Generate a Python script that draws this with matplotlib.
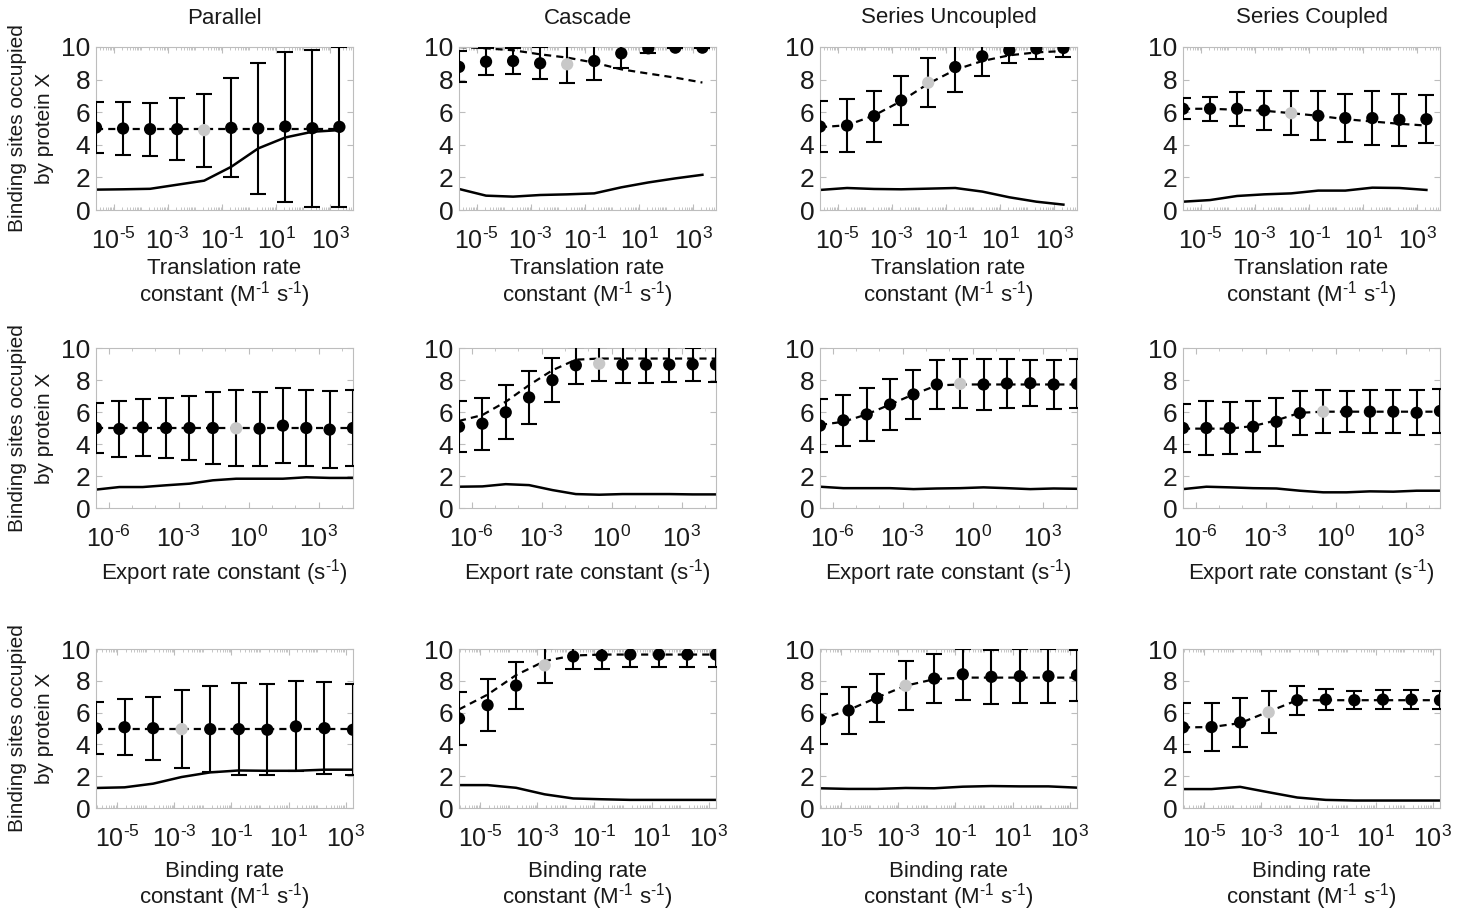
import numpy as np
import matplotlib.pyplot as plt
from matplotlib.ticker import FixedLocator, FixedFormatter, LogLocator, NullFormatter

plt.rcParams['font.family'] = ['Liberation Sans', 'DejaVu Sans']
plt.rcParams['mathtext.fontset'] = 'custom'
plt.rcParams['mathtext.rm'] = 'Liberation Sans'
plt.rcParams['mathtext.default'] = 'regular'

# rate constants swept (x values)
trans_k = [2.2e-6, 2.2e-5, 2.2e-4, 2.2e-3, 2.2e-2, 2.2e-1, 2.2, 22, 220, 2200]
export_k = [2.9e-7, 2.9e-6, 2.9e-5, 2.9e-4, 2.9e-3, 2.9e-2, 2.9e-1, 2.9, 29, 290, 2900, 29000]
bind_k = [1.8e-6, 1.8e-5, 1.8e-4, 1.8e-3, 1.8e-2, 1.8e-1, 1.8, 18, 180, 1800]
nominal = [4, 6, 3]  # index of the grey (nominal) point in each row

models = ["Parallel", "Cascade", "Series Uncoupled", "Series Coupled"]

# --- translation rate sweep ---
par_tr_mean = [5.06, 5.0, 4.96, 4.96, 4.9, 5.04, 5.0, 5.12, 5.02, 5.1]
par_tr_std = [1.58, 1.6, 1.63, 1.89, 2.24, 3.03, 4.04, 4.6, 4.81, 4.9]
par_tr_det = [4.98, 4.98, 4.98, 4.98, 4.98, 4.98, 4.98, 4.98, 4.98, 4.98]
par_tr_noise = [1.25, 1.27, 1.3, 1.55, 1.8, 2.65, 3.78, 4.45, 4.8, 4.9]

cas_tr_mean = [8.78, 9.1, 9.14, 9.0, 8.94, 9.14, 9.61, 9.92, 9.96, 9.96]
cas_tr_std = [0.95, 0.83, 0.8, 0.98, 1.12, 1.16, 0.92, 0.29, 0.05, 0.04]
cas_tr_det = [10.0, 9.92, 9.8, 9.55, 9.35, 9.04, 8.63, 8.37, 8.12, 7.82]
cas_tr_noise = [1.29, 0.88, 0.82, 0.92, 0.96, 1.02, 1.39, 1.69, 1.94, 2.16]

ser_tr_mean = [5.12, 5.18, 5.76, 6.72, 7.81, 8.77, 9.43, 9.8, 9.9, 9.94]
ser_tr_std = [1.58, 1.62, 1.56, 1.52, 1.5, 1.56, 1.23, 0.76, 0.62, 0.55]
ser_tr_det = [5.08, 5.2, 5.8, 6.68, 7.75, 8.6, 9.14, 9.49, 9.67, 9.75]
ser_tr_noise = [1.23, 1.35, 1.29, 1.27, 1.31, 1.35, 1.13, 0.78, 0.51, 0.33]

sc_tr_mean = [6.21, 6.21, 6.21, 6.11, 5.94, 5.78, 5.64, 5.64, 5.53, 5.57]
sc_tr_std = [0.65, 0.75, 1.03, 1.2, 1.34, 1.49, 1.49, 1.63, 1.6, 1.49]
sc_tr_det = [6.21, 6.21, 6.15, 6.09, 5.94, 5.78, 5.57, 5.43, 5.29, 5.18]
sc_tr_noise = [0.51, 0.61, 0.86, 0.96, 1.02, 1.19, 1.19, 1.37, 1.35, 1.23]

# --- export rate sweep ---
par_ex_mean = [5.0, 4.94, 5.04, 5.0, 5.0, 5.0, 4.98, 4.96, 5.15, 5.0, 4.9, 5.0]
par_ex_std = [1.58, 1.77, 1.78, 1.88, 2.01, 2.22, 2.37, 2.32, 2.35, 2.4, 2.4, 2.4]
par_ex_det = [5.0, 5.0, 5.0, 5.0, 5.0, 5.0, 5.0, 5.0, 5.0, 5.0, 5.0, 5.0]
par_ex_noise = [1.15, 1.31, 1.31, 1.42, 1.52, 1.73, 1.83, 1.83, 1.83, 1.92, 1.88, 1.88]

cas_ex_mean = [5.08, 5.27, 5.98, 6.91, 7.99, 8.92, 9.02, 8.96, 8.96, 8.96, 8.98, 8.96]
cas_ex_std = [1.6, 1.63, 1.69, 1.64, 1.38, 1.14, 1.07, 1.14, 1.14, 1.08, 1.05, 1.08]
cas_ex_det = [5.44, 5.81, 6.64, 7.68, 8.61, 9.27, 9.34, 9.34, 9.34, 9.34, 9.34, 9.34]
cas_ex_noise = [1.33, 1.35, 1.49, 1.43, 1.12, 0.87, 0.83, 0.87, 0.87, 0.87, 0.85, 0.85]

ser_ex_mean = [5.15, 5.48, 5.85, 6.47, 7.1, 7.72, 7.76, 7.72, 7.78, 7.8, 7.72, 7.76]
ser_ex_std = [1.68, 1.59, 1.64, 1.6, 1.54, 1.52, 1.53, 1.61, 1.54, 1.43, 1.53, 1.53]
ser_ex_det = [5.19, 5.39, 5.85, 6.47, 7.1, 7.66, 7.72, 7.72, 7.72, 7.72, 7.72, 7.72]
ser_ex_noise = [1.33, 1.24, 1.24, 1.24, 1.18, 1.22, 1.24, 1.29, 1.24, 1.18, 1.22, 1.2]

sc_ex_mean = [5.0, 5.0, 5.0, 5.08, 5.39, 5.93, 6.02, 6.02, 6.02, 6.02, 5.95, 6.06]
sc_ex_std = [1.53, 1.67, 1.62, 1.6, 1.5, 1.37, 1.33, 1.3, 1.33, 1.33, 1.4, 1.37]
sc_ex_det = [4.96, 4.96, 4.96, 5.12, 5.48, 5.95, 6.02, 6.02, 6.02, 6.02, 6.02, 6.02]
sc_ex_noise = [1.18, 1.33, 1.29, 1.24, 1.22, 1.08, 0.98, 0.98, 1.04, 1.02, 1.08, 1.08]

# --- binding rate sweep ---
par_bd_mean = [5.02, 5.08, 5.02, 4.96, 4.96, 4.96, 4.92, 5.13, 5.02, 4.92]
par_bd_std = [1.64, 1.76, 1.99, 2.43, 2.72, 2.88, 2.85, 2.83, 2.91, 2.87]
par_bd_det = [5.0, 5.0, 5.0, 5.0, 5.0, 5.0, 5.0, 5.0, 5.0, 5.0]
par_bd_noise = [1.26, 1.3, 1.53, 1.95, 2.24, 2.36, 2.34, 2.34, 2.41, 2.41]

cas_bd_mean = [5.63, 6.47, 7.7, 8.97, 9.53, 9.59, 9.65, 9.65, 9.65, 9.65]
cas_bd_std = [1.65, 1.62, 1.46, 1.1, 0.8, 0.86, 0.78, 0.78, 0.78, 0.78]
cas_bd_det = [6.2, 7.13, 8.36, 9.24, 9.59, 9.65, 9.65, 9.65, 9.65, 9.65]
cas_bd_noise = [1.44, 1.44, 1.27, 0.86, 0.6, 0.55, 0.51, 0.51, 0.51, 0.51]

ser_bd_mean = [5.57, 6.14, 6.91, 7.69, 8.14, 8.41, 8.25, 8.29, 8.29, 8.35]
ser_bd_std = [1.57, 1.5, 1.5, 1.55, 1.56, 1.6, 1.69, 1.68, 1.68, 1.6]
ser_bd_det = [5.57, 6.16, 6.95, 7.69, 8.1, 8.2, 8.2, 8.2, 8.2, 8.2]
ser_bd_noise = [1.24, 1.2, 1.2, 1.26, 1.24, 1.34, 1.38, 1.36, 1.36, 1.28]

sc_bd_mean = [5.07, 5.09, 5.38, 6.02, 6.78, 6.82, 6.78, 6.82, 6.82, 6.78]
sc_bd_std = [1.54, 1.52, 1.56, 1.33, 0.9, 0.67, 0.58, 0.6, 0.6, 0.58]
sc_bd_det = [5.07, 5.09, 5.34, 6.06, 6.78, 6.78, 6.78, 6.78, 6.78, 6.78]
sc_bd_noise = [1.19, 1.19, 1.33, 0.99, 0.66, 0.51, 0.47, 0.47, 0.47, 0.47]

rows = [
    (trans_k, [(par_tr_mean, par_tr_std, par_tr_det, par_tr_noise),
               (cas_tr_mean, cas_tr_std, cas_tr_det, cas_tr_noise),
               (ser_tr_mean, ser_tr_std, ser_tr_det, ser_tr_noise),
               (sc_tr_mean, sc_tr_std, sc_tr_det, sc_tr_noise)]),
    (export_k, [(par_ex_mean, par_ex_std, par_ex_det, par_ex_noise),
                (cas_ex_mean, cas_ex_std, cas_ex_det, cas_ex_noise),
                (ser_ex_mean, ser_ex_std, ser_ex_det, ser_ex_noise),
                (sc_ex_mean, sc_ex_std, sc_ex_det, sc_ex_noise)]),
    (bind_k, [(par_bd_mean, par_bd_std, par_bd_det, par_bd_noise),
              (cas_bd_mean, cas_bd_std, cas_bd_det, cas_bd_noise),
              (ser_bd_mean, ser_bd_std, ser_bd_det, ser_bd_noise),
              (sc_bd_mean, sc_bd_std, sc_bd_det, sc_bd_noise)]),
]

xlabels = [["Translation rate", "constant (M$^{\u20101}$ s$^{\u20101}$)"],
           ["Export rate constant (s$^{\u20101}$)"],
           ["Binding rate", "constant (M$^{\u20101}$ s$^{\u20101}$)"]]
xticks = [[1e-5, 1e-3, 1e-1, 1e1, 1e3],
          [1e-6, 1e-3, 1e0, 1e3],
          [1e-5, 1e-3, 1e-1, 1e1, 1e3]]
xlims = [(2.2e-6, 7e3), (2.9e-7, 2.9e4), (1.8e-6, 1.8e3)]

# layout in pixels
W, H = 1463, 913
col_left = [96, 459, 820, 1183]
ax_w = 257
row_top = [47, 348, 649]
row_bot = [210, 508, 808]
label_y = [[268, 295], [573], [871, 897]]

grey = "#c8c8c8"
edge = "#bdbdbd"
txt = "#1a1a1a"


def pow_label(t):
    e = int(round(np.log10(t)))
    s = str(abs(e)) if e >= 0 else "\u2010" + str(abs(e))
    return "$10^{%s}$" % s


fig = plt.figure(figsize=(W / 100, H / 100), dpi=100)

for r, (kvals, panels) in enumerate(rows):
    for c, (mean, std, det, noise) in enumerate(panels):
        ax = fig.add_axes([col_left[c] / W, (H - row_bot[r]) / H, ax_w / W,
                           (row_bot[r] - row_top[r]) / H])
        ax.set_xscale("log")
        ax.plot(kvals, noise, color="black", lw=1.8, zorder=2)
        ax.plot(kvals, det, color="black", lw=1.6, ls=(0, (3.2, 2.3)), zorder=2)
        ax.errorbar(kvals, mean, yerr=std, fmt="none", ecolor="black",
                    elinewidth=1.5, capsize=6, capthick=1.5, zorder=3)
        cols = ["black"] * len(kvals)
        cols[nominal[r]] = grey
        ax.scatter(kvals, mean, s=78, c=cols, edgecolors="none", zorder=4)

        ax.set_xlim(*xlims[r])
        ax.set_ylim(0, 10)
        ax.set_yticks([0, 2, 4, 6, 8, 10])
        ax.xaxis.set_major_locator(FixedLocator(xticks[r]))
        ax.xaxis.set_major_formatter(FixedFormatter([pow_label(t) for t in xticks[r]]))
        if r == 1:
            ax.xaxis.set_minor_locator(LogLocator(base=10, subs=[1.0], numticks=100))
        else:
            ax.xaxis.set_minor_locator(LogLocator(base=10, subs=np.arange(1, 10), numticks=100))
        ax.xaxis.set_minor_formatter(NullFormatter())
        ax.tick_params(which="both", direction="in", top=True, right=True,
                       color=edge, labelcolor=txt, labelsize=19)
        ax.tick_params(axis="x", pad=13, labelsize=18)
        ax.tick_params(axis="y", pad=4)
        ax.tick_params(which="major", length=4)
        ax.tick_params(which="minor", length=2)
        for s in ax.spines.values():
            s.set_color(edge)
            s.set_linewidth(0.8)
        xc = (col_left[c] + ax_w / 2) / W
        for line, ly in zip(xlabels[r], label_y[r]):
            fig.text(xc, 1 - ly / H, line, ha="center", va="center",
                     fontsize=16, color=txt)
        if r == 0:
            fig.text(xc, 1 - 18 / H, models[c],
                     ha="center", va="center", fontsize=16, color=txt)
        if c == 0:
            yc = (row_top[r] + row_bot[r]) / 2
            fig.text(18 / W, 1 - yc / H, "Binding sites occupied",
                     ha="center", va="center", rotation=90, fontsize=15, color=txt)
            fig.text(45 / W, 1 - yc / H, "by protein X",
                     ha="center", va="center", rotation=90, fontsize=15, color=txt)

fig.savefig("out.png", dpi=100)
